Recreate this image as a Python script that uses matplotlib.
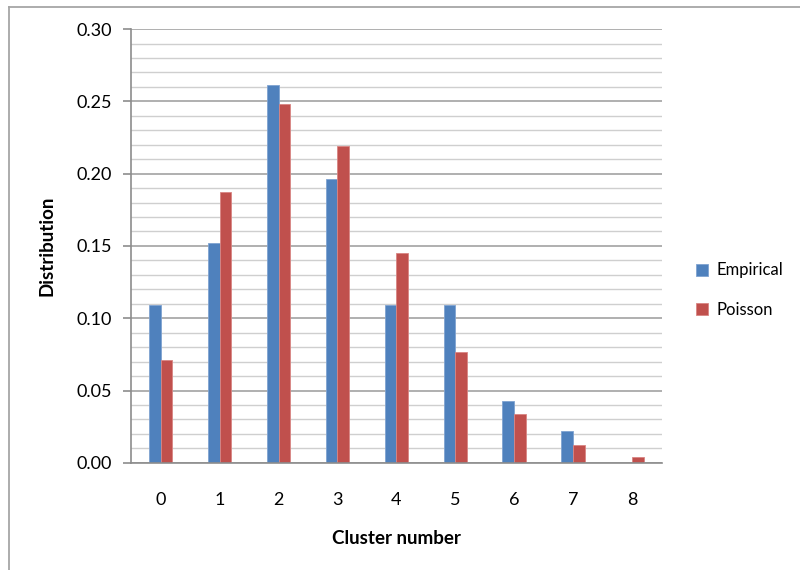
import matplotlib

matplotlib.use("Agg")

import matplotlib.pyplot as plt
import numpy as np
from matplotlib.lines import Line2D
from matplotlib.ticker import FormatStrFormatter, MultipleLocator

clusters = ["0", "1", "2", "3", "4", "5", "6", "7", "8"]
empirical = [0.109, 0.152, 0.261, 0.196, 0.109, 0.109, 0.043, 0.022, 0.0]
poisson = [0.071, 0.187, 0.248, 0.219, 0.145, 0.077, 0.034, 0.0125, 0.004]

BLUE = "#4f81bd"
RED = "#c0504d"
AXIS_GRAY = "#8c8c8c"

plt.rcParams["font.family"] = ["Lato", "DejaVu Sans"]
plt.rcParams["font.size"] = 12

fig = plt.figure(figsize=(8.0, 5.7), dpi=100)
ax = fig.add_axes([0.164, 0.188, 0.663, 0.761])

x = np.arange(len(clusters))
width = 0.2
ax.bar(x - width / 2, empirical, width, color=BLUE, edgecolor="#7fa3d1",
       linewidth=0.6, label="Empirical")
ax.bar(x + width / 2, poisson, width, color=RED, edgecolor="#d98583",
       linewidth=0.6, label="Poisson")

ax.set_xlim(-0.5, len(clusters) - 0.5)
ax.set_ylim(0, 0.30)
ax.set_xticks(x, clusters)
ax.yaxis.set_major_locator(MultipleLocator(0.05))
ax.yaxis.set_minor_locator(MultipleLocator(0.01))
ax.yaxis.set_major_formatter(FormatStrFormatter("%.2f"))

ax.set_axisbelow(True)
ax.grid(axis="y", which="major", color="#9a9a9a", linewidth=1.1)
ax.grid(axis="y", which="minor", color="#cfcfcf", linewidth=1.0)

for side in ("top", "right"):
    ax.spines[side].set_visible(False)
for side in ("left", "bottom"):
    ax.spines[side].set_color(AXIS_GRAY)
    ax.spines[side].set_linewidth(1.2)

ax.tick_params(axis="x", length=0, pad=21, labelsize=13)
ax.tick_params(axis="y", which="major", length=6, width=1.2, color=AXIS_GRAY,
               pad=8, labelsize=13)
ax.tick_params(axis="y", which="minor", length=0)

ax.set_xlabel("Cluster number", fontweight="bold", fontsize=13.5)
ax.set_ylabel("Distribution", fontweight="bold", fontsize=13.5)
ax.xaxis.set_label_coords(0.5, -0.155)
ax.yaxis.set_label_coords(-0.142, 0.5)

fig.legend(loc="center left", bbox_to_anchor=(0.851, 0.491), frameon=False,
           handlelength=0.75, handleheight=0.75, handletextpad=0.5,
           labelspacing=1.4, fontsize=12)

# chart-area frame along the top and left edges
border = dict(color="#a6a6a6", linewidth=1.3, transform=fig.transFigure)
fig.add_artist(Line2D([9 / 800, 1.0], [1 - 7 / 570, 1 - 7 / 570], **border))
fig.add_artist(Line2D([9 / 800, 9 / 800], [0.0, 1 - 7 / 570], **border))

fig.savefig("out.png", dpi=100)
